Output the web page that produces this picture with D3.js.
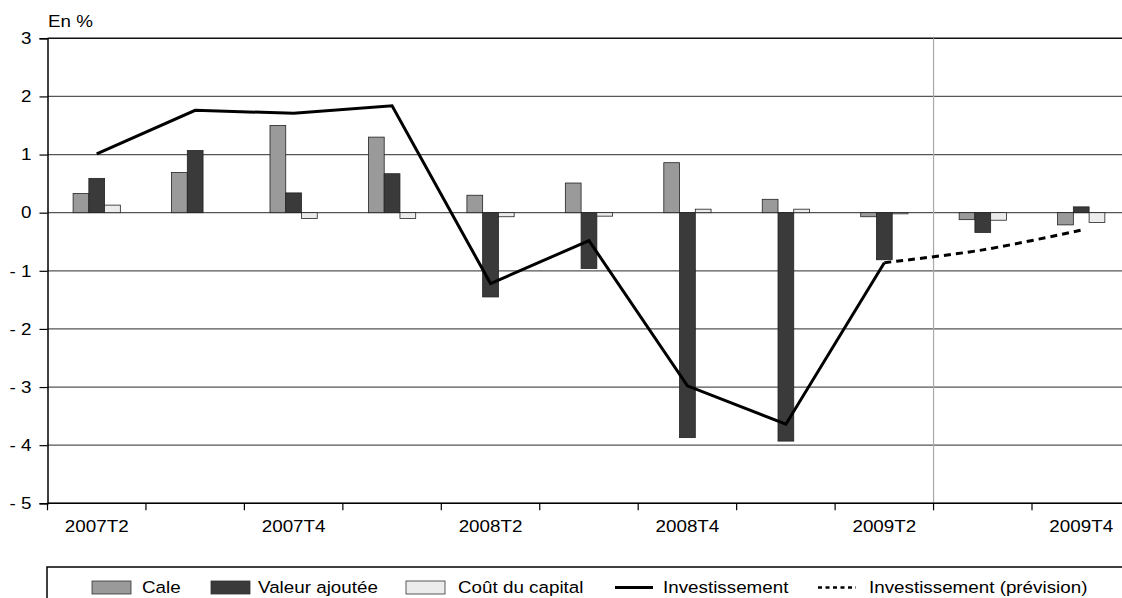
<!DOCTYPE html>
<html>
<head>
<meta charset="utf-8">
<script src="https://cdn.jsdelivr.net/npm/d3@7"></script>
<style>
	body { margin: 0; background: #fff; }
	svg { display: block; font-family: "Liberation Sans", Arial, sans-serif; }
</style>
</head>
<body>
<svg id="chart" width="1122" height="598"></svg>
<script>
// quarters on the x axis
var quarters = ["2007T2", "2007T3", "2007T4", "2008T1", "2008T2", "2008T3", "2008T4", "2009T1", "2009T2", "2009T3", "2009T4"];
var shownLabels = ["2007T2", "2007T4", "2008T2", "2008T4", "2009T2", "2009T4"];
var yTicks = [3, 2, 1, 0, -1, -2, -3, -4, -5];

// bar series (en %)
var cale = [0.33, 0.69, 1.50, 1.30, 0.30, 0.51, 0.86, 0.23, -0.07, -0.12, -0.21];
var valeurAjoutee = [0.59, 1.07, 0.34, 0.67, -1.45, -0.96, -3.87, -3.93, -0.81, -0.34, 0.10];
var coutCapital = [0.13, 0, -0.10, -0.10, -0.07, -0.06, 0.06, 0.06, -0.02, -0.13, -0.17];

// line series
var investissement = [1.01, 1.76, 1.71, 1.84, -1.22, -0.48, -2.98, -3.64, -0.86, null, null];
var prevision = [null, null, null, null, null, null, null, null, -0.86, -0.64, -0.30];

var barSeries = ["Cale", "Valeur ajoutée", "Coût du capital"];
var barColors = ["#9a9a9a", "#3a3a3a", "#ececec"];

var svg = d3.select("#chart");
var margin = {top: 38.3, left: 47.5},
	bandW = 98.45,
	width = bandW * quarters.length,
	height = 465;
var TX = "scale(1.14,1)"; // source text is horizontally stretched

var g = svg.append("g").attr("transform", "translate(" + margin.left + "," + margin.top + ")");

var x0 = d3.scaleBand().domain(quarters).range([0, width]);
var x1 = d3.scaleBand().domain(barSeries).range([bandW * 0.26, bandW * 0.74]);
var y = d3.scaleLinear().domain([-5, 3]).range([height, 0]);

// horizontal grid
g.append("g")
	.selectAll("line")
	.data(yTicks)
	.join("line")
	.attr("x1", 0)
	.attr("x2", width)
	.attr("y1", function(d) { return y(d); })
	.attr("y2", function(d) { return y(d); })
	.attr("stroke", function(d) { return d == 3 ? "#111" : "#555"; })
	.attr("stroke-width", function(d) { return d == 3 ? 1.5 : 1.2; });

// separator before the forecast quarters
g.append("line")
	.attr("x1", x0("2009T3"))
	.attr("x2", x0("2009T3"))
	.attr("y1", 0)
	.attr("y2", height)
	.attr("stroke", "#aaa")
	.attr("stroke-width", 1.2);

// bars
var rows = quarters.map(function(q, i) {
	return {q: q, vals: [cale[i], valeurAjoutee[i], coutCapital[i]]};
});

var groups = g.append("g")
	.selectAll("g")
	.data(rows)
	.join("g")
	.attr("transform", function(d) { return "translate(" + x0(d.q) + ",0)"; });

groups.selectAll("rect")
	.data(function(d) {
		return d.vals.map(function(v, k) { return {key: barSeries[k], v: v, k: k}; })
			.filter(function(e) { return e.v != 0; });
	})
	.join("rect")
	.attr("x", function(d) { return x1(d.key); })
	.attr("width", x1.bandwidth())
	.attr("y", function(d) { return y(Math.max(0, d.v)); })
	.attr("height", function(d) { return Math.abs(y(d.v) - y(0)); })
	.attr("fill", function(d) { return barColors[d.k]; })
	.attr("stroke", "#222")
	.attr("stroke-width", 0.8);

// lines
var line = d3.line()
	.defined(function(d) { return d != null; })
	.x(function(d, i) { return x0(quarters[i]) + bandW / 2; })
	.y(function(d) { return y(d); });

g.append("path")
	.datum(investissement)
	.attr("fill", "none")
	.attr("stroke", "#000")
	.attr("stroke-width", 3)
	.attr("stroke-linejoin", "miter")
	.attr("d", line);

g.append("path")
	.datum(prevision)
	.attr("fill", "none")
	.attr("stroke", "#000")
	.attr("stroke-width", 3)
	.attr("stroke-dasharray", "7,5")
	.attr("d", line.curve(d3.curveCatmullRom));

// y axis
var yAxis = g.append("g")
	.call(d3.axisLeft(y).tickValues(yTicks).tickSize(8).tickPadding(6)
		.tickFormat(function(d) { return d < 0 ? "- " + Math.abs(d) : d; }));
yAxis.select(".domain").attr("stroke", "#000").attr("stroke-width", 1.5);
yAxis.selectAll(".tick line").attr("stroke", "#000").attr("stroke-width", 1.2);
yAxis.selectAll("text")
	.attr("font-size", 16.5)
	.attr("fill", "#000")
	.attr("transform", TX);

// x axis: ticks on band edges, labels every second quarter
var xAxis = g.append("g").attr("transform", "translate(0," + height + ")");
xAxis.append("line")
	.attr("x1", 0).attr("x2", width)
	.attr("stroke", "#000").attr("stroke-width", 1.5);
xAxis.selectAll(".edge")
	.data(quarters)
	.join("line")
	.attr("class", "edge")
	.attr("x1", function(d) { return x0(d); })
	.attr("x2", function(d) { return x0(d); })
	.attr("y1", 0)
	.attr("y2", 7)
	.attr("stroke", "#000")
	.attr("stroke-width", 1.2);
xAxis.selectAll(".lab")
	.data(shownLabels)
	.join("text")
	.attr("class", "lab")
	.attr("transform", function(d) { return "translate(" + (x0(d) + bandW / 2) + ",29) " + TX; })
	.attr("text-anchor", "middle")
	.attr("font-size", 16.5)
	.text(function(d) { return d; });

// unit label
svg.append("text")
	.attr("transform", "translate(48,27) " + TX)
	.attr("font-size", 16.5)
	.text("En %");

// legend
svg.append("rect")
	.attr("x", 47)
	.attr("y", 567)
	.attr("width", 1100)
	.attr("height", 60)
	.attr("fill", "none")
	.attr("stroke", "#000")
	.attr("stroke-width", 1.5);

var legendItems = [
	{label: "Cale", type: "bar", color: barColors[0], x: 92, tx: 142},
	{label: "Valeur ajoutée", type: "bar", color: barColors[1], x: 211, tx: 258},
	{label: "Coût du capital", type: "bar", color: barColors[2], x: 406, tx: 458},
	{label: "Investissement", type: "line", dash: null, x: 615, tx: 663},
	{label: "Investissement (prévision)", type: "line", dash: "4,3.5", x: 818, tx: 869}
];

var leg = svg.append("g");
legendItems.forEach(function(it) {
	if (it.type == "bar") {
		leg.append("rect")
			.attr("x", it.x).attr("y", 581)
			.attr("width", 39).attr("height", 13)
			.attr("fill", it.color)
			.attr("stroke", "#333").attr("stroke-width", 0.8);
	} else {
		leg.append("line")
			.attr("x1", it.x).attr("x2", it.x + 38)
			.attr("y1", 587.5).attr("y2", 587.5)
			.attr("stroke", "#000")
			.attr("stroke-width", it.dash ? 2.5 : 3)
			.attr("stroke-dasharray", it.dash);
	}
	leg.append("text")
		.attr("transform", "translate(" + it.tx + ",593) " + TX)
		.attr("font-size", 16.5)
		.text(it.label);
});
</script>
</body>
</html>
